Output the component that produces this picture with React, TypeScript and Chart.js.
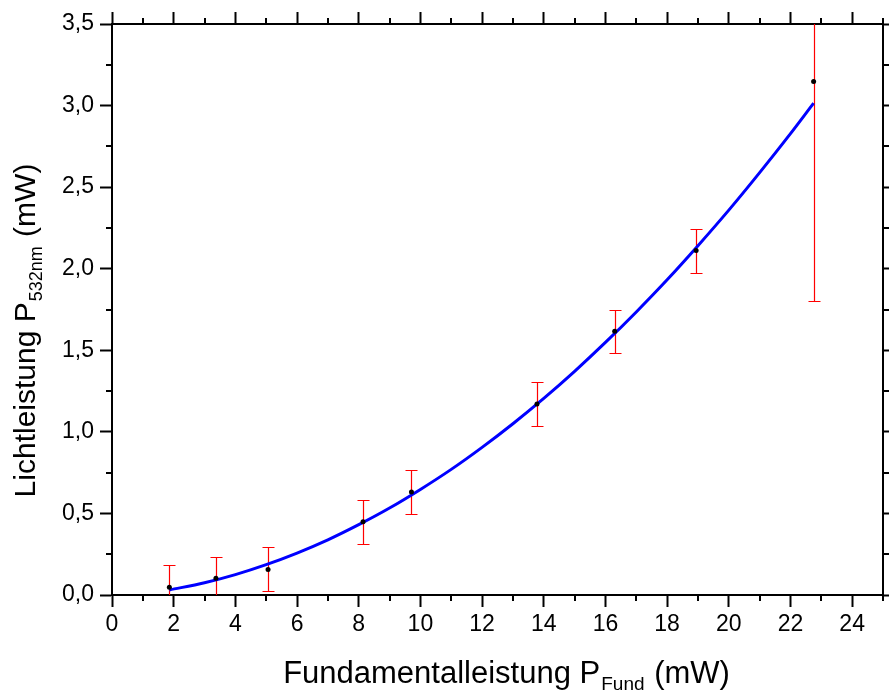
import React, { useEffect, useRef } from "react";
import { Chart, registerables } from "chart.js";

Chart.register(...registerables);

// Measured points (Fundamentalleistung in mW, Lichtleistung in mW, error in mW)
const X_VALUES = [1.86, 3.37, 5.06, 8.14, 9.71, 13.78, 16.3, 18.94, 22.75];
const Y_VALUES = [0.047, 0.102, 0.157, 0.449, 0.631, 1.171, 1.617, 2.111, 3.147];
const Y_ERRORS = [0.135, 0.133, 0.135, 0.135, 0.135, 0.135, 0.132, 0.135, 1.347];

// Fit curve
const CURVE_X = [1.86, 3, 4, 5, 6, 7, 8, 9, 10, 11, 12, 13, 14, 15, 16, 17, 18, 19, 20, 21, 22, 22.75];
const CURVE_Y = [0.031, 0.075, 0.125, 0.186, 0.257, 0.338, 0.431, 0.533, 0.647, 0.77, 0.905, 1.05, 1.205, 1.371, 1.548, 1.735, 1.932, 2.141, 2.359, 2.589, 2.828, 3.015];

// Axes
const X_MIN = 0;
const X_MAX = 25;
const X_STEP = 2;
const X_MINOR = [1, 3, 5, 7, 9, 11, 13, 15, 17, 19, 21, 23, 25];
const Y_MIN = 0;
const Y_MAX = 3.5;
const Y_STEP = 0.5;
const Y_MINOR = [0.25, 0.75, 1.25, 1.75, 2.25, 2.75, 3.25];

const X_TITLE = ["Fundamentalleistung P", "Fund", " (mW)"];
const Y_TITLE = ["Lichtleistung P", "532nm", " (mW)"];

const FONT = '"Liberation Sans", Arial, sans-serif';

const overlay = {
  id: "overlay",
  beforeDatasetsDraw(chart: any) {
    const { ctx, chartArea } = chart;
    const xs = chart.scales.x;
    const ys = chart.scales.y;
    ctx.save();
    ctx.beginPath();
    ctx.rect(chartArea.left, chartArea.top, chartArea.right - chartArea.left, chartArea.bottom - chartArea.top);
    ctx.clip();
    ctx.strokeStyle = "#ff0000";
    ctx.lineWidth = 1.2;
    for (let i = 0; i < X_VALUES.length; i++) {
      const px = Math.round(xs.getPixelForValue(X_VALUES[i])) + 0.5;
      const top = Math.round(ys.getPixelForValue(Y_VALUES[i] + Y_ERRORS[i])) + 0.5;
      const bot = Math.round(ys.getPixelForValue(Y_VALUES[i] - Y_ERRORS[i])) + 0.5;
      ctx.beginPath();
      ctx.moveTo(px, top);
      ctx.lineTo(px, bot);
      ctx.moveTo(px - 6, top);
      ctx.lineTo(px + 6, top);
      ctx.moveTo(px - 6, bot);
      ctx.lineTo(px + 6, bot);
      ctx.stroke();
    }
    ctx.restore();
  },
  afterDraw(chart: any) {
    const { ctx, chartArea } = chart;
    const xs = chart.scales.x;
    const ys = chart.scales.y;
    ctx.save();
    // minor ticks
    ctx.strokeStyle = "#000";
    ctx.lineWidth = 2;
    ctx.beginPath();
    for (const v of X_MINOR) {
      const px = Math.round(xs.getPixelForValue(v));
      ctx.moveTo(px, chartArea.bottom);
      ctx.lineTo(px, chartArea.bottom + 6);
      ctx.moveTo(px, chartArea.top);
      ctx.lineTo(px, chartArea.top - 6);
    }
    for (const v of Y_MINOR) {
      const py = Math.round(ys.getPixelForValue(v));
      ctx.moveTo(chartArea.left, py);
      ctx.lineTo(chartArea.left - 6, py);
      ctx.moveTo(chartArea.right, py);
      ctx.lineTo(chartArea.right + 6, py);
    }
    ctx.stroke();

    // titles with subscripts
    ctx.fillStyle = "#000";
    ctx.textBaseline = "alphabetic";
    ctx.textAlign = "left";
    const measure = (parts: string[], big: string, small: string) => {
      ctx.font = big;
      const a = ctx.measureText(parts[0]).width;
      const c = ctx.measureText(parts[2]).width;
      ctx.font = small;
      const b = ctx.measureText(parts[1]).width;
      return [a, b, c];
    };
    const drawTitle = (parts: string[], x0: number, base: number, big: string, small: string) => {
      const [a, b] = measure(parts, big, small);
      ctx.font = big;
      ctx.fillText(parts[0], x0, base);
      ctx.font = small;
      ctx.fillText(parts[1], x0 + a + 1, base + 7);
      ctx.font = big;
      ctx.fillText(parts[2], x0 + a + b + 2, base);
    };
    // x title
    {
      const big = "31px " + FONT;
      const small = "19px " + FONT;
      const [a, b, c] = measure(X_TITLE, big, small);
      const total = a + b + c + 2;
      const cx = (chartArea.left + chartArea.right) / 2 + 9;
      drawTitle(X_TITLE, cx - total / 2, chartArea.bottom + 88, big, small);
    }
    // y title
    {
      const big = "30px " + FONT;
      const small = "18px " + FONT;
      const [a, b, c] = measure(Y_TITLE, big, small);
      const total = a + b + c + 2;
      const cy = (chartArea.top + chartArea.bottom) / 2 + 21;
      ctx.save();
      ctx.translate(chartArea.left - 77, 0);
      ctx.rotate(-Math.PI / 2);
      drawTitle(Y_TITLE, -(cy + total / 2), 0, big, small);
      ctx.restore();
    }
    ctx.restore();
  },
};

const fmtY = (v: any) => Number(v).toFixed(1).replace(".", ",");

export default function App() {
  const ref = useRef<HTMLCanvasElement | null>(null);
  useEffect(() => {
    if (!ref.current) return;
    const axisCommon = {
      type: "linear" as const,
      border: { display: true, color: "#000", width: 2 },
      grid: {
        display: true,
        drawOnChartArea: false,
        drawTicks: true,
        tickLength: 12,
        tickWidth: 2,
        tickColor: "#000",
      },
    };
    const chart = new Chart(ref.current, {
      type: "scatter",
      data: {
        datasets: [
          {
            type: "scatter",
            label: "Messwerte",
            data: X_VALUES.map((x, i) => ({ x, y: Y_VALUES[i] })),
            backgroundColor: "#000",
            borderColor: "#000",
            pointRadius: 2.5,
            pointBorderWidth: 0,
            order: 0,
          },
          {
            type: "line",
            label: "Fit",
            data: CURVE_X.map((x, i) => ({ x, y: CURVE_Y[i] })),
            borderColor: "#0000ff",
            borderWidth: 3,
            pointRadius: 0,
            fill: false,
            cubicInterpolationMode: "monotone",
            order: 1,
          },
        ],
      },
      options: {
        animation: false,
        responsive: false,
        maintainAspectRatio: false,
        layout: { padding: 0 },
        plugins: { legend: { display: false }, tooltip: { enabled: false } },
        scales: {
          x: {
            ...axisCommon,
            position: "bottom",
            min: X_MIN,
            max: X_MAX,
            ticks: {
              stepSize: X_STEP,
              includeBounds: false,
              color: "#000",
              padding: 4,
              maxRotation: 0,
              font: { family: FONT, size: 23 },
            },
            afterFit: (s: any) => {
              s.height = 98;
            },
          },
          x2: {
            ...axisCommon,
            position: "top",
            min: X_MIN,
            max: X_MAX,
            ticks: { stepSize: X_STEP, includeBounds: false, display: false },
            afterFit: (s: any) => {
              s.height = 24;
            },
          },
          y: {
            ...axisCommon,
            position: "left",
            min: Y_MIN,
            max: Y_MAX,
            ticks: {
              stepSize: Y_STEP,
              color: "#000",
              padding: 6,
              font: { family: FONT, size: 23 },
              callback: fmtY,
            },
            afterFit: (s: any) => {
              s.width = 112;
            },
          },
          y2: {
            ...axisCommon,
            position: "right",
            min: Y_MIN,
            max: Y_MAX,
            ticks: { stepSize: Y_STEP, display: false },
            afterFit: (s: any) => {
              s.width = 6;
            },
          },
        },
      } as any,
      plugins: [overlay],
    });
    return () => chart.destroy();
  }, []);
  return (
    <div style={{ position: "fixed", left: 0, top: 0, width: 889, height: 693, background: "#fff" }}>
      <canvas ref={ref} width={889} height={693} style={{ width: 889, height: 693 }} />
    </div>
  );
}
